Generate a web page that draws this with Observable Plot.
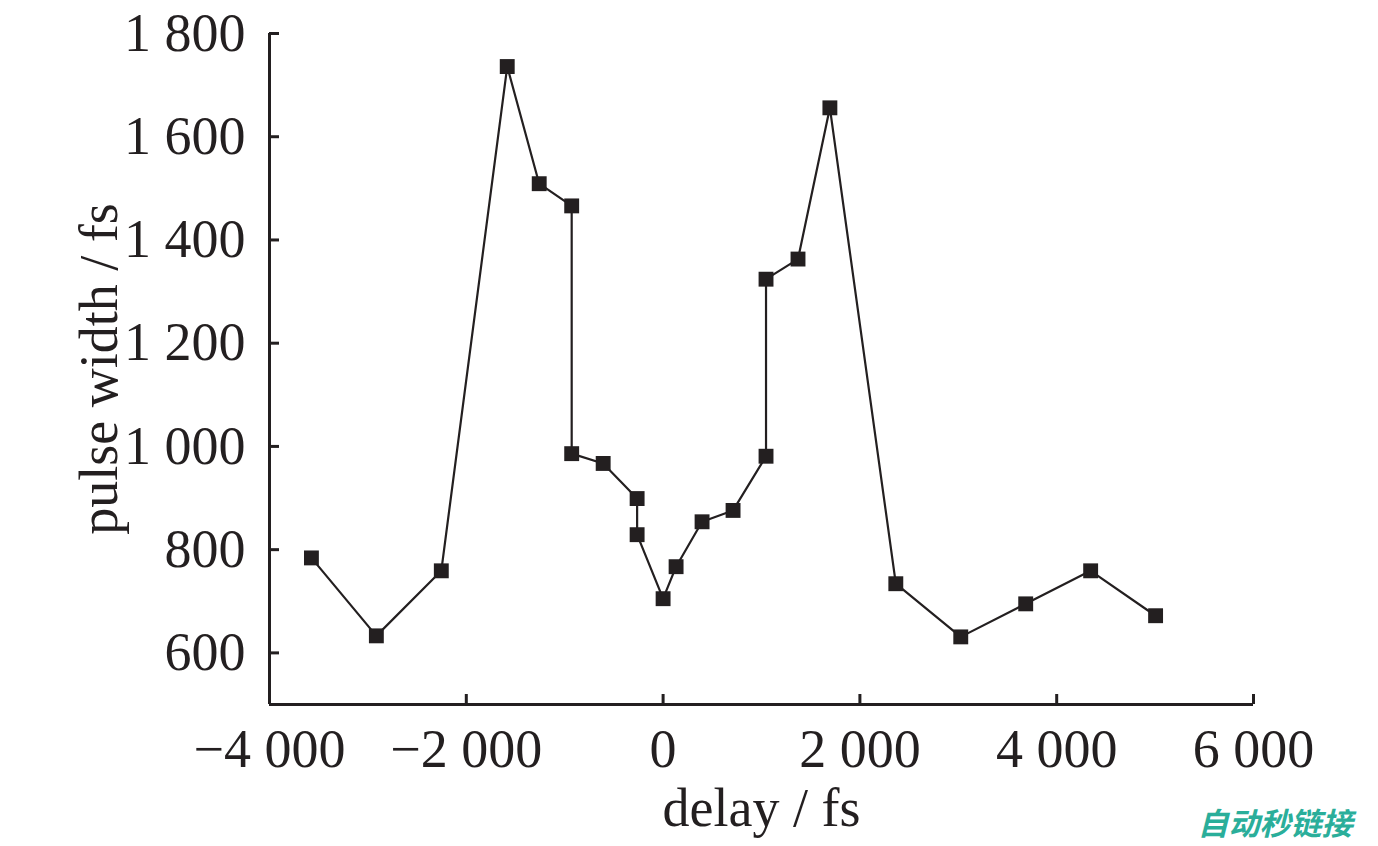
<!DOCTYPE html>
<html>
<head>
<meta charset="utf-8">
<script src="https://cdn.jsdelivr.net/npm/d3@7"></script>
<script src="https://cdn.jsdelivr.net/npm/@observablehq/plot@0.6"></script>
<style>
  html, body { margin: 0; padding: 0; background: #fff; }
</style>
</head>
<body>
<div id="chart"></div>
<script>
// Data
const delayFs = [-3574, -2914, -2254, -1584, -1259, -929, -929, -609, -264, -264, 0, 132, 396, 711, 1046, 1046, 1371, 1695, 2365, 3025, 3685, 4345, 5005];
const pulseWidthFs = [784, 633, 759, 1736, 1509, 1466, 986, 967, 899, 829, 705, 767, 854, 876, 981, 1324, 1363, 1656, 734, 631, 695, 759, 672];
const xTicks = [-4000, -2000, 0, 2000, 4000, 6000];
const yTicks = [600, 800, 1000, 1200, 1400, 1600, 1800];
const xTitle = "delay / fs";
const yTitle = "pulse width / fs";
const watermark = "自动秒链接";

const rows = delayFs.map((d, i) => ({delay: d, width: pulseWidthFs[i]}));
const fmt = d3.formatLocale({decimal: ".", thousands: " ", grouping: [3], currency: ["", ""], minus: "\u2212"}).format(",");

const ink = "#231f20";
const serif = "Liberation Serif, Times New Roman, serif";

const chart = Plot.plot({
  width: 1378,
  height: 846,
  marginLeft: 269,
  marginRight: 125,
  marginTop: 33,
  marginBottom: 142,
  style: {fontFamily: serif, color: ink, background: "#fff"},
  x: {domain: [-4000, 6000]},
  y: {domain: [500, 1800]},
  marks: [
    Plot.axisX({ticks: xTicks, tickFormat: fmt, tickSize: -10, tickPadding: 34, fontSize: 54, strokeWidth: 3, label: null, stroke: ink, fill: ink}),
    Plot.axisY({ticks: yTicks, tickFormat: fmt, tickSize: -10, tickPadding: 34, fontSize: 54, strokeWidth: 3, label: null, stroke: ink, fill: ink}),
    Plot.ruleY([500], {stroke: ink, strokeWidth: 3}),
    Plot.ruleX([-4000], {stroke: ink, strokeWidth: 3}),
    Plot.line(rows, {x: "delay", y: "width", stroke: ink, strokeWidth: 2.2}),
    Plot.dot(rows, {x: "delay", y: "width", symbol: "square", r: 8.4, fill: ink, stroke: null}),
    Plot.text([xTitle], {frameAnchor: "bottom", dy: 104, fontSize: 54, fill: ink, textAnchor: "middle", lineAnchor: "middle"}),
    Plot.text([yTitle], {frameAnchor: "left", dx: -170, rotate: -90, fontSize: 54, fill: ink, textAnchor: "middle", lineAnchor: "middle"}),
    Plot.text([watermark], {frameAnchor: "bottom-right", dx: 99, dy: 121, textAnchor: "end", lineAnchor: "middle", fontSize: 31, fontWeight: "bold", fontStyle: "italic", fill: "#2aae9a", fontFamily: "Noto Sans CJK SC"})
  ]
});
document.getElementById("chart").appendChild(chart);
</script>
</body>
</html>
